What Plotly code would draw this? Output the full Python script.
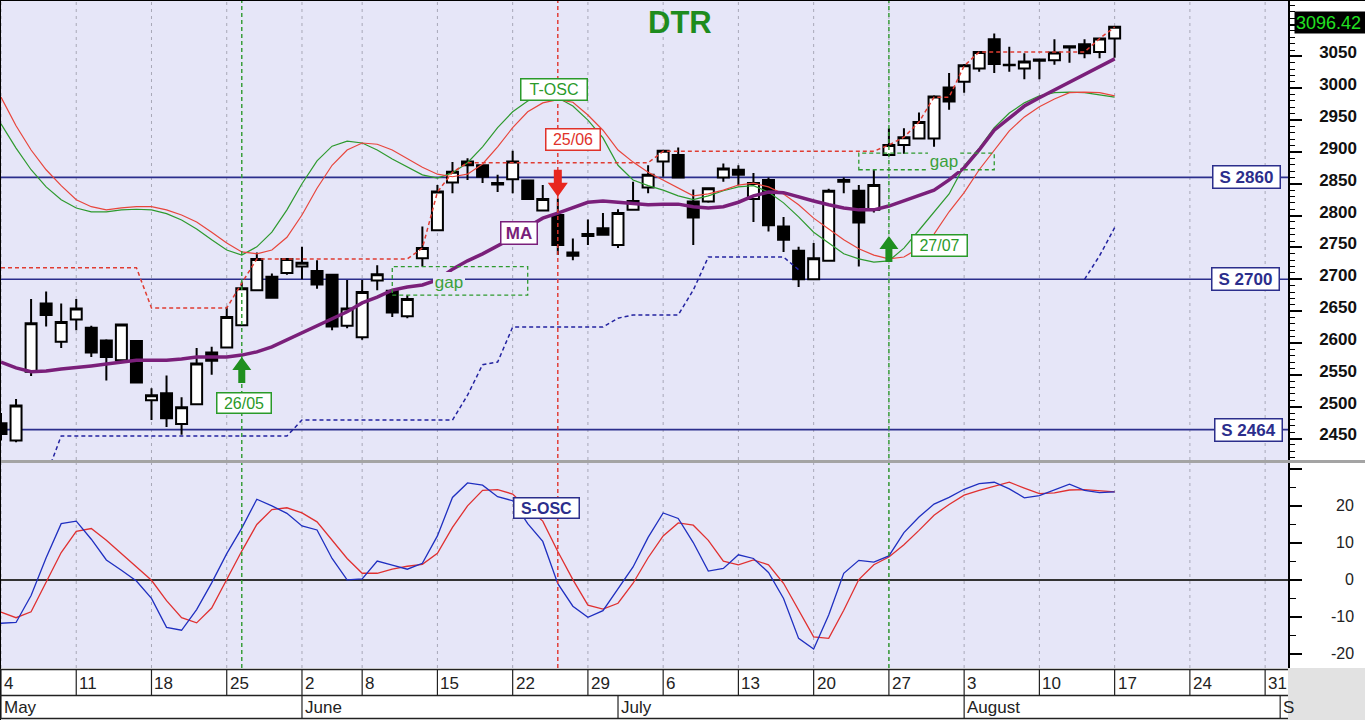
import plotly.graph_objects as go

# ---------------- data ----------------
day_index = list(range(75))

opens = [2474, 2447, 2555, 2662, 2602, 2637, 2624, 2604, 2573, 2603,
         2510, 2521, 2473, 2504, 2585, 2593, 2628, 2683, 2704, 2710,
         2720, 2713, 2707, 2627, 2609, 2698, 2682, 2642, 2733, 2777,
         2852, 2885, 2879, 2851, 2857, 2855, 2808, 2801, 2742, 2768,
         2780, 2754, 2809, 2844, 2885, 2895, 2822, 2822, 2860, 2872,
         2826, 2856, 2783, 2745, 2700, 2729, 2856, 2839, 2809, 2895,
         2911, 2921, 2921, 3001, 3010, 3031, 3077, 3036, 3031, 3045,
         3044, 3064, 3069, 3057, 3078]
highs = [2490, 2512, 2669, 2681, 2662, 2669, 2627, 2606, 2630, 2604,
         2529, 2549, 2515, 2592, 2594, 2657, 2696, 2742, 2709, 2733,
         2751, 2730, 2708, 2699, 2699, 2722, 2683, 2675, 2783, 2848,
         2884, 2890, 2880, 2864, 2902, 2856, 2848, 2827, 2764, 2794,
         2804, 2810, 2853, 2879, 2903, 2907, 2841, 2844, 2882, 2879,
         2867, 2860, 2798, 2751, 2757, 2842, 2860, 2848, 2872, 2937,
         2937, 2962, 2989, 3024, 3038, 3058, 3086, 3065, 3055, 3046,
         3077, 3067, 3077, 3079, 3098]
lows = [2447, 2444, 2548, 2626, 2592, 2620, 2578, 2541, 2572, 2537,
        2479, 2468, 2456, 2503, 2550, 2592, 2627, 2682, 2670, 2707,
        2700, 2685, 2620, 2623, 2605, 2683, 2641, 2639, 2720, 2776,
        2835, 2856, 2851, 2837, 2835, 2825, 2807, 2738, 2730, 2754,
        2769, 2749, 2808, 2835, 2861, 2859, 2754, 2820, 2853, 2848,
        2790, 2775, 2743, 2688, 2699, 2728, 2835, 2720, 2805, 2894,
        2897, 2920, 2908, 2966, 2993, 3026, 3024, 3026, 3014, 3014,
        3037, 3040, 3047, 3047, 3048]
closes = [2457, 2502, 2631, 2644, 2633, 2654, 2585, 2578, 2629, 2538,
          2518, 2482, 2499, 2568, 2572, 2641, 2686, 2732, 2671, 2732,
          2726, 2692, 2626, 2654, 2680, 2708, 2648, 2669, 2749, 2838,
          2869, 2879, 2861, 2849, 2885, 2826, 2826, 2754, 2737, 2771,
          2770, 2804, 2823, 2864, 2902, 2860, 2797, 2843, 2874, 2864,
          2851, 2785, 2762, 2700, 2733, 2839, 2853, 2789, 2848, 2911,
          2923, 2947, 2987, 2979, 3036, 3057, 3038, 3037, 3042, 3043,
          3056, 3066, 3055, 3078, 3096.42]

ma_values = [2570, 2561, 2555, 2556, 2559, 2561, 2564, 2567, 2570, 2573,
             2573, 2573, 2575, 2578, 2578, 2578, 2581, 2586, 2594, 2605,
             2617, 2628, 2639, 2649, 2663, 2672, 2683, 2688, 2691, 2699,
             2716, 2729, 2740, 2752, 2765, 2782, 2796, 2804, 2812, 2821,
             2823, 2821, 2818, 2817, 2818, 2818, 2814, 2812, 2814, 2821,
             2831, 2837, 2836, 2829, 2823, 2817, 2812, 2809, 2809, 2815,
             2823, 2831, 2840, 2856, 2875, 2903, 2934, 2953, 2972, 2985,
             2997, 3010, 3022, 3033, 3046]

tosc_fast = [2944, 2906, 2872, 2845, 2825, 2812, 2806, 2806, 2809, 2810,
             2809, 2803, 2793, 2779, 2762, 2746, 2738, 2751, 2774, 2809,
             2850, 2886, 2909, 2917, 2914, 2903, 2889, 2876, 2864, 2859,
             2867, 2883, 2908, 2938, 2963, 2980, 2988, 2985, 2972, 2950,
             2922, 2879, 2856, 2847, 2840, 2831, 2825, 2831, 2839, 2845,
             2847, 2837, 2820, 2798, 2774, 2757, 2740, 2732, 2727, 2729,
             2749, 2777, 2806, 2834, 2878, 2906, 2938, 2961, 2977, 2988,
             2993, 2994, 2993, 2989, 2986]
tosc_slow = [2986, 2941, 2903, 2872, 2847, 2825, 2814, 2809, 2812, 2814,
             2814, 2809, 2801, 2790, 2774, 2757, 2743, 2740, 2746, 2766,
             2801, 2843, 2879, 2903, 2914, 2912, 2903, 2890, 2876, 2865,
             2861, 2865, 2881, 2908, 2938, 2963, 2977, 2982, 2978, 2958,
             2934, 2903, 2884, 2868, 2856, 2843, 2831, 2834, 2840, 2848,
             2851, 2845, 2834, 2817, 2796, 2779, 2762, 2748, 2738, 2732,
             2735, 2749, 2771, 2806, 2836, 2872, 2903, 2933, 2955, 2971,
             2983, 2993, 2994, 2993, 2988]

resistance_trail = [2718, 2718, 2718, 2718, 2718, 2718, 2718, 2718, 2718, 2718,
                    2655, 2655, 2655, 2655, 2655, 2655, 2694, 2732, 2732, 2732,
                    2732, 2732, 2732, 2732, 2732, 2732, 2732, 2732, 2749, 2837,
                    2868, 2883, 2883, 2883, 2883, 2883, 2883, 2883, 2883, 2883,
                    2883, 2883, 2883, 2883, 2901, 2901, 2901, 2901, 2901, 2901,
                    2901, 2901, 2901, 2901, 2901, 2901, 2901, 2901, 2901, 2911,
                    2923, 2947, 2986, 2986, 3035, 3057, 3057, 3057, 3057, 3057,
                    3057, 3057, 3057, 3078, 3096]
support_trail = [None, None, None, 2391, 2454, 2454, 2454, 2454, 2454, 2454,
                 2454, 2454, 2454, 2454, 2454, 2454, 2454, 2454, 2454, 2454,
                 2479, 2479, 2479, 2479, 2479, 2479, 2479, 2479, 2479, 2479,
                 2479, 2518, 2566, 2570, 2625, 2625, 2625, 2625, 2625, 2625,
                 2625, 2639, 2644, 2644, 2644, 2644, 2683, 2735, 2735, 2735,
                 2735, 2735, 2735, 2715, None, None, None, None, None, None,
                 None, None, None, None, None, None, None, None, None, None,
                 None, None, 2700, 2737, 2781]

sosc_fast = [-11.7, -11.5, -4.2, 6.0, 15.2, 15.9, 11.0, 5.4, 2.6, -0.3,
             -5.0, -12.8, -13.6, -8.0, -0.8, 7.1, 14.0, 21.8, 20.0, 18.0,
             14.6, 13.5, 5.8, 0.0, 0.3, 5.1, 4.0, 2.9, 4.5, 11.9,
             22.3, 26.2, 25.6, 22.5, 21.4, 15.2, 10.4, -1.0, -7.1, -10.1,
             -8.3, -2.3, 3.5, 11.5, 18.1, 16.6, 10.1, 2.4, 3.1, 6.8,
             5.8, 2.0, -5.0, -15.8, -18.7, -9.5, 1.8, 5.3, 4.8, 6.5,
             12.8, 17.0, 20.5, 22.3, 24.5, 26.0, 26.4, 24.6, 22.2, 22.8,
             24.4, 25.9, 24.2, 23.6, 23.8]
sosc_slow = [-8.7, -10.2, -8.6, -0.8, 7.4, 13.1, 13.9, 10.7, 7.1, 3.5,
             -0.1, -5.6, -10.2, -11.6, -7.6, 0.1, 7.8, 15.0, 19.0, 19.5,
             18.1, 15.7, 10.6, 5.8, 1.8, 1.8, 2.9, 3.7, 4.2, 7.2,
             14.2, 20.0, 24.2, 24.4, 23.2, 19.3, 15.9, 7.7, 0.1, -6.8,
             -7.9, -6.3, -0.9, 6.0, 11.9, 15.4, 14.8, 10.7, 5.1, 4.1,
             5.4, 4.1, -0.9, -8.2, -15.4, -15.8, -8.2, 0.1, 4.1, 6.2,
             9.5, 13.4, 17.5, 20.4, 22.9, 24.2, 25.4, 26.4, 24.8, 23.3,
             23.5, 24.3, 24.4, 24.2, 23.8]

support_levels = [2860, 2700, 2464]
support_labels = ["S 2860", "S 2700", "S 2464"]

week_tick_index = [0, 5, 10, 15, 20, 24, 29, 34, 39, 44, 49, 54, 59, 64, 69, 74, 79, 84]
week_tick_label = ["4", "11", "18", "25", "2", "8", "15", "22", "29", "6", "13", "20",
                   "27", "3", "10", "17", "24", "31"]
month_index = [0, 20, 41, 64, 85]
month_label = ["May", "June", "July", "August", "S"]

signal_index = [16, 37, 59]
signal_label = ["26/05", "25/06", "27/07"]
signal_dir = ["up", "down", "up"]
signal_tail = [2537, 2872, 2727]

gap_x0 = [26, 57]
gap_x1 = [35, 66]
gap_low = [2675, 2872]
gap_high = [2720, 2898]

last_close = 3096.42
price_ticks = [2450, 2500, 2550, 2600, 2650, 2700, 2750, 2800, 2850, 2900, 2950, 3000, 3050, 3100]
price_ticktext = ["2450", "2500", "2550", "2600", "2650", "2700", "2750", "2800", "2850", "2900",
                  "2950", "3000", "3050", ""]
osc_ticks = [-20, -10, 0, 10, 20]

# ---------------- layout constants ----------------
W, H = 1365, 720
PW, PH = 1288, 668          # plot area (pixels)
X_RANGE = [-0.066, 85.52]
PRICE_RANGE = [2416.3, 3138.5]
OSC_RANGE = [-23.8, 31.6]
PRICE_DOM = [1 - 460 / PH, 1]
OSC_DOM = [0, 205 / PH]

BG = "#E6E6F8"
GREEN = "#2A9A2A"
RED = "#E0322A"
NAVY = "#2B2E8C"
PURPLE = "#7A1F7A"
FN = "Liberation Sans Narrow, Arial Narrow, Liberation Sans, Arial, sans-serif"
FA = "Liberation Sans, Arial, sans-serif"


def px_x(px):
    return px / PW


def px_y(py):
    return (PH - py) / PH


fig = go.Figure()

# T-OSC
fig.add_trace(go.Scatter(x=day_index, y=tosc_fast, mode="lines",
                         line=dict(color="#2E9A2E", width=1.2), xaxis="x", yaxis="y"))
fig.add_trace(go.Scatter(x=day_index, y=tosc_slow, mode="lines",
                         line=dict(color="#E8463C", width=1.2), xaxis="x", yaxis="y"))
# trailing lines
fig.add_trace(go.Scatter(x=day_index, y=resistance_trail, mode="lines",
                         line=dict(color="#E03C32", width=1.5, dash="4px,3px"), xaxis="x", yaxis="y"))
fig.add_trace(go.Scatter(x=day_index, y=support_trail, mode="lines",
                         line=dict(color="#2323A0", width=1.5, dash="4px,3px"), xaxis="x", yaxis="y"))
# candles
fig.add_trace(go.Candlestick(x=day_index, open=opens, high=highs, low=lows, close=closes,
                             increasing=dict(line=dict(color="#000000", width=2), fillcolor="#FFFFFF"),
                             decreasing=dict(line=dict(color="#000000", width=2), fillcolor="#000000"),
                             whiskerwidth=0, xaxis="x", yaxis="y"))
# MA
fig.add_trace(go.Scatter(x=day_index, y=ma_values, mode="lines",
                         line=dict(color=PURPLE, width=3.5), xaxis="x", yaxis="y"))
# S-OSC
fig.add_trace(go.Scatter(x=day_index, y=sosc_slow, mode="lines",
                         line=dict(color="#E03030", width=1.3), xaxis="x", yaxis="y2"))
fig.add_trace(go.Scatter(x=day_index, y=sosc_fast, mode="lines",
                         line=dict(color="#1F2FC0", width=1.3), xaxis="x", yaxis="y2"))

shapes = []
# weekly grid lines
for k in week_tick_index:
    for d in (PRICE_DOM, OSC_DOM):
        shapes.append(dict(type="line", xref="x", yref="paper", x0=k, x1=k, y0=d[0], y1=d[1],
                           line=dict(color="#A8A8B8", width=1, dash="3px,4px"), layer="below"))
# support levels
for lv in support_levels:
    shapes.append(dict(type="line", xref="paper", yref="y", x0=0, x1=1, y0=lv, y1=lv,
                       line=dict(color=NAVY, width=1.6), layer="below"))
# gap boxes
for a, b, lo, hi in zip(gap_x0, gap_x1, gap_low, gap_high):
    shapes.append(dict(type="rect", xref="x", yref="y", x0=a, x1=b, y0=lo, y1=hi,
                       line=dict(color="#2E9A2E", width=1.3, dash="4px,3px"), fillcolor="rgba(0,0,0,0)",
                       layer="above"))
# event verticals
for k, d in zip(signal_index, signal_dir):
    col = "#2E9A2E" if d == "up" else "#E0322A"
    shapes.append(dict(type="line", xref="x", yref="paper", x0=k, x1=k, y0=0, y1=1,
                       line=dict(color=col, width=1.4, dash="4px,3px"), layer="above"))
# arrows
UP = "M-3.5,0L3.5,0L3.5,13L9.5,13L0,26L-9.5,13L-3.5,13Z"
DOWN = "M-4,0L4,0L4,-13L10,-13L0,-27L-10,-13L-4,-13Z"
for k, d, t in zip(signal_index, signal_dir, signal_tail):
    shapes.append(dict(type="path", xref="x", yref="y", xsizemode="pixel", ysizemode="pixel",
                       xanchor=k, yanchor=t, path=UP if d == "up" else DOWN,
                       fillcolor="#1F8F1F" if d == "up" else "#E8261E", line=dict(width=0),
                       layer="above"))
# panel separator
shapes.append(dict(type="rect", xref="paper", yref="paper", x0=0, x1=W / PW,
                   y0=px_y(463), y1=px_y(460), fillcolor="#A4A4A4", line=dict(width=0), layer="above"))
# frame
shapes.append(dict(type="line", xref="paper", yref="paper", x0=0, x1=W / PW, y0=1, y1=1,
                   line=dict(color="#000", width=2), layer="above"))
shapes.append(dict(type="line", xref="paper", yref="paper", x0=0, x1=0, y0=px_y(720), y1=1,
                   line=dict(color="#000", width=2), layer="above"))
# date band
shapes.append(dict(type="rect", xref="paper", yref="paper", x0=1, x1=W / PW, y0=px_y(720), y1=px_y(668),
                   fillcolor="#E2E2E2", line=dict(width=0), layer="above"))
for py in (669.5, 695.5, 718.5):
    shapes.append(dict(type="line", xref="paper", yref="paper", x0=0, x1=1, y0=px_y(py), y1=px_y(py),
                       line=dict(color="#222", width=1.3), layer="above"))
for k in week_tick_index:
    shapes.append(dict(type="line", xref="x", yref="paper", x0=k, x1=k, y0=px_y(695.5), y1=px_y(669.5),
                       line=dict(color="#222", width=1.2), layer="above"))
for k in month_index:
    shapes.append(dict(type="line", xref="x", yref="paper", x0=k, x1=k, y0=px_y(718.5), y1=px_y(695.5),
                       line=dict(color="#222", width=1.2), layer="above"))

ann = []


def box(text, cx, cy, color, border, bg, w, h, size=16, fam=FA):
    ann.append(dict(text=text, xref="paper", yref="paper", x=px_x(cx), y=px_y(cy),
                    xanchor="center", yanchor="middle", showarrow=False,
                    font=dict(family=fam, size=size, color=color),
                    bgcolor=bg, bordercolor=border, borderwidth=1.5 if border else 0,
                    borderpad=1, width=w, height=h))


ann.append(dict(text="<b>DTR</b>", xref="paper", yref="paper", x=px_x(680), y=px_y(23),
                xanchor="center", yanchor="middle", showarrow=False,
                font=dict(family=FA, size=31, color="#1E8C1E")))
box("T-OSC", 554, 89.5, GREEN, GREEN, "#FFFFFF", 63, 18)
box(signal_label[1], 572.5, 139, RED, RED, "#FFFFFF", 51, 18)
box("<b>MA</b>", 519, 233, PURPLE, PURPLE, "#FFFFFF", 33, 19, size=17)
box(signal_label[0], 243.5, 402.5, GREEN, GREEN, "#FFFFFF", 51, 17)
box(signal_label[2], 939, 245.5, GREEN, GREEN, "#FFFFFF", 52, 18)
box("<b>S-OSC</b>", 546.5, 507.5, NAVY, NAVY, "#FFFFFF", 62, 17)
box("gap", 449, 282, "#3AA03A", None, BG, 30, 19, size=17)
box("gap", 944, 161, "#3AA03A", None, BG, 30, 17, size=17)

for lv, lab, cx in zip(support_levels, support_labels, [1246, 1245.5, 1248.5]):
    ann.append(dict(text="<b>" + lab + "</b>", xref="paper", yref="y", x=px_x(cx), y=lv,
                    xanchor="center", yanchor="middle", showarrow=False,
                    font=dict(family=FA, size=17, color=NAVY), bgcolor="#FFFFFF",
                    bordercolor=NAVY, borderwidth=1.5, borderpad=1, width=64, height=19))

ann.append(dict(text="3096.42", xref="paper", yref="y", x=px_x(1294), y=last_close, yshift=4,
                xanchor="left", yanchor="middle", showarrow=False,
                font=dict(family=FA, size=18, color="#22E022"), bgcolor="#000000",
                borderpad=1, width=74, height=19, align="left"))

for v in osc_ticks:
    ann.append(dict(text=str(v), xref="paper", yref="y2", x=px_x(1356), y=v,
                    xanchor="right", yanchor="middle", showarrow=False,
                    font=dict(family=FA, size=16, color="#222")))

for k, lab in zip(week_tick_index, week_tick_label):
    ann.append(dict(text=lab, xref="x", yref="paper", x=k, y=px_y(683), xanchor="left", xshift=1,
                    yanchor="middle", showarrow=False, font=dict(family=FN, size=17, color="#222")))
for k, lab in zip(month_index, month_label):
    ann.append(dict(text=lab, xref="x", yref="paper", x=k, y=px_y(707.5), xanchor="left", xshift=1,
                    yanchor="middle", showarrow=False, font=dict(family=FN, size=17, color="#222")))

fig.update_layout(
    width=W, height=H, autosize=False,
    margin=dict(l=0, r=W - PW, t=0, b=H - PH, pad=0),
    paper_bgcolor="#FFFFFF", plot_bgcolor=BG,
    showlegend=False, hovermode=False,
    boxgap=0.27, boxgroupgap=0,
    xaxis=dict(range=X_RANGE, anchor="y2", showgrid=False, zeroline=False, showline=False,
               showticklabels=False, ticks="", rangeslider=dict(visible=False), fixedrange=True),
    yaxis=dict(domain=PRICE_DOM, range=PRICE_RANGE, side="right", anchor="x",
               showgrid=False, zeroline=False, showline=True, linecolor="#000", linewidth=1.5,
               ticks="outside", ticklen=12, tickwidth=1.5, tickcolor="#000",
               tickvals=price_ticks, ticktext=price_ticktext,
               tickfont=dict(family=FA, size=17, color="#111", weight="bold"),
               ticklabelstandoff=14, ticklabelshift=-4,
               minor=dict(dtick=10, ticks="outside", ticklen=5, tickcolor="#000", tickwidth=1, showgrid=False),
               fixedrange=True),
    yaxis2=dict(domain=OSC_DOM, range=OSC_RANGE, side="right", anchor="x",
                showgrid=False, zeroline=True, zerolinecolor="#333", zerolinewidth=1.5,
                showline=True, linecolor="#000", linewidth=1.5,
                ticks="outside", ticklen=12, tickwidth=1.5, tickcolor="#000",
                tickvals=[-20, -10, 0, 10, 20, 30], showticklabels=False,
                minor=dict(dtick=5, ticks="outside", ticklen=6, tickcolor="#000", tickwidth=1, showgrid=False),
                fixedrange=True),
    shapes=shapes, annotations=ann,
)

fig.write_html("out.html", config={"displayModeBar": False},
               post_script="document.body.style.margin='0';document.body.style.overflow='hidden';")
